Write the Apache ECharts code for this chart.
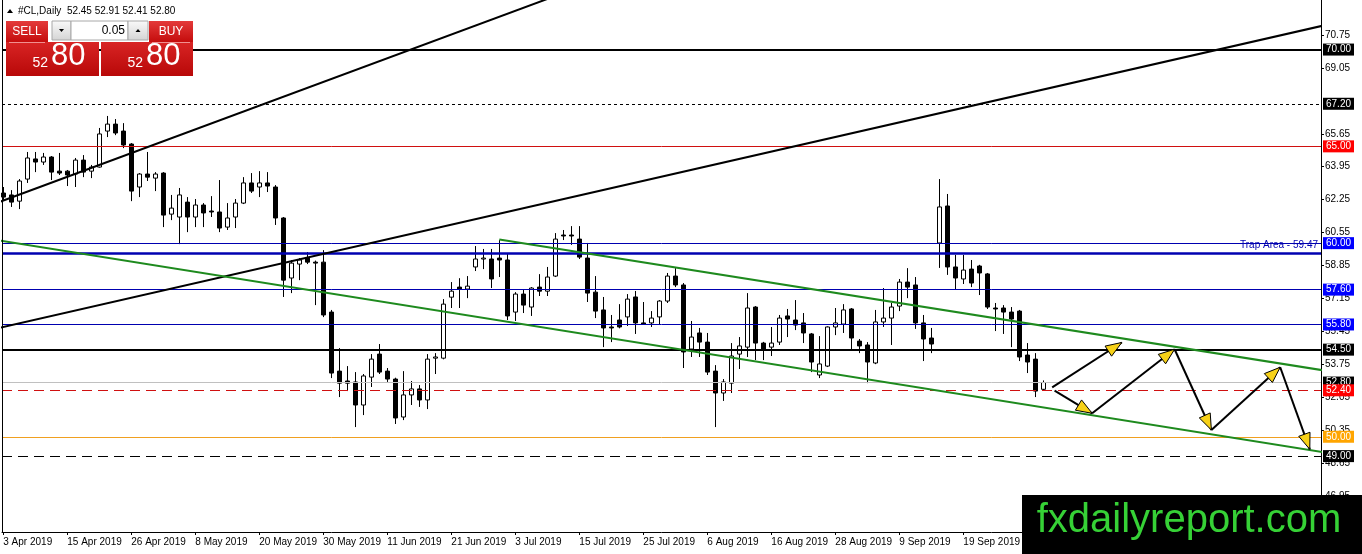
<!DOCTYPE html>
<html lang="en">
<head>
<meta charset="UTF-8">
<title>#CL,Daily</title>
<script src="https://cdn.jsdelivr.net/npm/echarts@6/dist/echarts.min.js"></script>
<style>
  html, body { margin: 0; padding: 0; background: #fff; }
  #main { width: 1362px; height: 554px; }
</style>
</head>
<body>
<div id="main"></div>
<script>
// daily bars, one row per bar: [open, close, low, high]
var candles = [
  [62.59, 62.38, 62.23, 62.90], [62.49, 62.12, 61.87, 62.74], [62.17, 63.21, 61.76, 63.31],
  [63.31, 64.40, 63.11, 64.71], [64.35, 64.19, 63.67, 64.71], [64.19, 64.45, 64.04, 64.66],
  [64.45, 63.67, 63.26, 64.50], [63.72, 63.62, 63.52, 64.66], [63.72, 63.52, 62.95, 63.78],
  [63.57, 64.29, 62.90, 64.40], [64.29, 63.67, 63.41, 64.55], [63.72, 63.93, 63.36, 64.04],
  [63.93, 65.64, 63.90, 65.95], [65.79, 66.15, 65.48, 66.57], [66.15, 65.69, 65.58, 66.41],
  [65.79, 65.07, 64.91, 66.20], [65.12, 62.69, 62.17, 65.17], [62.90, 63.57, 62.38, 63.62],
  [63.57, 63.41, 63.21, 64.71], [63.36, 63.57, 62.69, 63.67], [63.62, 61.45, 60.83, 63.67],
  [61.50, 61.81, 61.19, 62.49], [61.35, 62.49, 59.95, 62.85], [62.12, 61.35, 60.57, 62.38],
  [61.35, 61.97, 60.83, 62.28], [61.97, 61.56, 60.83, 62.07], [61.66, 61.61, 61.35, 62.43],
  [61.61, 60.78, 60.57, 63.26], [60.83, 61.30, 60.68, 62.07], [61.35, 62.07, 60.78, 62.28],
  [62.07, 63.11, 62.02, 63.41], [63.11, 62.69, 62.59, 63.62], [62.90, 63.11, 62.38, 63.72],
  [63.11, 62.95, 62.64, 63.67], [62.90, 61.30, 60.94, 63.00], [61.30, 58.09, 57.22, 61.35],
  [58.20, 58.97, 57.42, 59.13], [58.92, 59.13, 58.09, 59.23], [59.23, 59.02, 58.92, 59.54],
  [59.02, 58.97, 56.80, 59.10], [59.02, 56.29, 56.18, 59.64], [56.44, 53.29, 53.03, 56.55],
  [53.39, 52.77, 52.05, 54.58], [52.88, 52.77, 52.36, 53.65], [52.83, 51.64, 50.50, 53.34],
  [51.64, 53.14, 51.12, 53.24], [53.08, 54.01, 52.57, 54.27], [54.27, 53.34, 53.24, 54.79],
  [53.39, 52.98, 52.83, 53.55], [52.98, 50.97, 50.66, 53.05], [51.02, 52.16, 50.86, 53.39],
  [52.16, 52.47, 51.64, 52.88], [52.47, 51.90, 51.54, 52.67], [51.90, 54.01, 51.43, 54.27],
  [54.06, 54.12, 53.24, 54.32], [54.06, 56.85, 54.00, 57.11], [57.21, 57.52, 56.65, 57.99],
  [57.73, 57.63, 56.65, 58.19], [57.63, 57.78, 57.16, 58.30], [58.77, 59.18, 58.56, 59.85],
  [59.18, 59.23, 58.66, 59.70], [59.18, 58.15, 57.68, 59.70], [59.23, 59.13, 58.25, 60.16],
  [59.13, 56.24, 56.03, 59.49], [56.44, 57.37, 55.98, 57.47], [57.37, 56.80, 56.39, 57.58],
  [56.70, 57.68, 56.24, 57.73], [57.73, 57.52, 57.27, 58.40], [57.52, 58.25, 57.27, 58.77],
  [58.30, 60.21, 58.25, 60.52], [60.42, 60.37, 60.16, 60.68], [60.42, 60.37, 59.91, 60.88],
  [60.21, 59.28, 59.18, 60.88], [59.23, 57.42, 56.96, 60.01], [57.47, 56.49, 56.13, 58.30],
  [56.55, 55.62, 54.63, 57.22], [55.67, 55.62, 54.89, 56.29], [56.03, 55.67, 55.60, 56.85],
  [56.19, 57.11, 55.72, 57.37], [57.22, 55.88, 55.31, 57.53], [55.88, 55.82, 55.78, 56.96],
  [55.88, 56.13, 55.67, 56.49], [56.19, 57.01, 55.82, 57.06], [57.01, 58.30, 56.91, 58.46],
  [58.30, 57.84, 57.73, 58.71], [57.84, 54.38, 53.55, 57.94], [54.53, 55.15, 54.12, 55.98],
  [55.36, 54.89, 54.12, 55.62], [54.89, 53.34, 53.19, 55.36], [53.39, 52.26, 50.50, 53.70],
  [52.26, 52.83, 51.85, 52.98], [52.77, 54.17, 52.26, 54.84], [54.27, 54.69, 53.50, 55.15],
  [54.63, 56.65, 54.12, 57.42], [56.70, 54.84, 53.96, 56.75], [54.84, 54.53, 53.96, 54.90],
  [54.63, 54.84, 54.17, 55.67], [54.89, 56.13, 54.74, 56.29], [56.24, 56.08, 55.15, 56.60],
  [56.03, 55.77, 55.51, 57.06], [55.88, 55.36, 54.84, 56.39], [55.31, 53.86, 53.34, 55.36],
  [53.19, 53.76, 53.03, 55.20], [53.65, 55.67, 53.60, 55.70], [55.67, 55.88, 55.25, 56.65],
  [55.82, 56.55, 55.36, 56.85], [56.60, 55.10, 54.48, 56.65], [54.94, 54.69, 54.32, 55.05],
  [54.74, 53.86, 52.77, 54.89], [53.81, 55.93, 53.75, 56.55], [55.93, 56.13, 55.67, 57.68],
  [56.13, 56.70, 54.74, 56.91], [56.75, 57.99, 56.49, 58.15], [57.99, 57.73, 57.16, 58.71],
  [57.84, 55.88, 55.57, 58.25], [55.88, 55.05, 53.91, 56.29], [55.10, 54.79, 54.32, 55.62],
  [60.01, 61.87, 58.72, 63.31], [61.92, 58.77, 58.36, 62.54], [58.77, 58.20, 57.58, 59.39],
  [58.15, 58.61, 57.89, 59.39], [58.66, 57.94, 57.73, 59.13], [58.82, 58.46, 57.32, 58.88],
  [58.41, 56.70, 56.60, 58.46], [56.65, 56.60, 55.46, 56.91], [56.65, 56.44, 55.31, 56.80],
  [56.44, 56.08, 54.63, 56.70], [56.49, 54.12, 53.91, 56.55], [54.22, 53.86, 53.29, 54.84],
  [54.01, 52.36, 52.05, 54.32], [52.45, 52.80, 52.41, 52.91]
];

// date labels sit every 8th bar
var dateTickIdx = [0, 8, 16, 24, 32, 40, 48, 56, 64, 72, 80, 88, 96, 104, 112, 120];
var dateTickLabels = ['3 Apr 2019', '15 Apr 2019', '26 Apr 2019', '8 May 2019', '20 May 2019',
  '30 May 2019', '11 Jun 2019', '21 Jun 2019', '3 Jul 2019', '15 Jul 2019', '25 Jul 2019',
  '6 Aug 2019', '16 Aug 2019', '28 Aug 2019', '9 Sep 2019', '19 Sep 2019'];

// price scale labels (67.35 is hidden behind the 67.20 tag on the original)
var priceTicks = [46.95, 48.65, 50.35, 52.05, 53.75, 55.45, 57.15, 58.85, 60.55, 62.25,
  63.95, 65.65, 69.05, 70.75];

// horizontal levels
var levels = [70.00, 67.20, 65.00, 60.00, 59.47, 57.60, 55.80, 54.50, 52.80, 52.40, 50.00, 49.00];

// trend lines, endpoints as [bar index, price]
var trendSteep = [[-1, 62.05], [70, 72.92]];
var trendLong = [[-1, 55.58], [165, 71.24]];
var channelLow = [[-1, 60.17], [165, 49.20]];
var channelHigh = [[62, 60.19], [165, 53.43]];

// projected path, each row [fromBar, fromPrice, toBar, toPrice]
var arrowPath = [
  [131.1, 52.55, 139.8, 54.87],
  [131.4, 52.38, 136.1, 51.21],
  [136.1, 51.21, 146.4, 54.52],
  [146.4, 54.52, 151.0, 50.35],
  [151.0, 50.35, 159.6, 53.59],
  [159.6, 53.59, 163.3, 49.35]
];

var FONT = '"Liberation Sans", Arial, sans-serif';
var BLUE = '#0000b0';

// look of each level, same order as levels
var levelLook = [
  { color: '#000', width: 2, type: 'solid', tag: '#000' },
  { color: '#000', width: 1, type: [3, 3], tag: '#000' },
  { color: '#d01010', width: 1, type: 'solid', tag: '#ff0000' },
  { color: BLUE, width: 1, type: 'solid', tag: '#0000ff' },
  { color: BLUE, width: 2.5, type: 'solid', tag: null, text: 'Trap Area - 59.47' },
  { color: BLUE, width: 1, type: 'solid', tag: '#0000ff' },
  { color: BLUE, width: 1, type: 'solid', tag: '#0000ff' },
  { color: '#000', width: 2, type: 'solid', tag: '#000' },
  { color: '#c0c0c0', width: 1, type: 'solid', tag: '#000' },
  { color: '#d01010', width: 1, type: [10, 6], tag: '#ff0000' },
  { color: '#f0a020', width: 1, type: 'solid', tag: '#ffa500' },
  { color: '#000', width: 1, type: [10, 6], tag: '#000' }
];

var levelData = levels.map(function (v, i) {
  var lk = levelLook[i];
  var item = {
    yAxis: v,
    lineStyle: { color: lk.color, width: lk.width, type: lk.type }
  };
  if (lk.tag) {
    item.label = {
      show: true, position: 'end', distance: 2,
      formatter: v.toFixed(2),
      color: '#fff', backgroundColor: lk.tag,
      fontSize: 10, fontFamily: FONT, padding: [1, 3, 1, 3]
    };
  } else {
    item.label = {
      show: true, position: 'insideEndTop', distance: 3,
      formatter: lk.text, color: BLUE, fontSize: 10, fontFamily: FONT
    };
  }
  return item;
});

var candleData = candles.map(function (c, i) { return [i, c[0], c[1], c[2], c[3]]; });

function trend(data, color) {
  return {
    type: 'line', data: data, symbol: 'none', clip: true, silent: true, z: 6,
    lineStyle: { color: color, width: 2 }
  };
}

function redGrad(top, bottom) {
  return { type: 'linear', x: 0, y: 0, x2: 0, y2: 1,
    colorStops: [{ offset: 0, color: top }, { offset: 1, color: bottom }] };
}
var grayGrad = redGrad('#fafafa', '#d4d4d4');

var myChart = echarts.init(document.getElementById('main'));

myChart.setOption({
  animation: false,
  backgroundColor: '#fff',
  textStyle: { fontFamily: FONT },
  grid: { left: 2, right: 41, top: 0, bottom: 22 },
  xAxis: {
    type: 'value', min: -0.16, max: 164.7,
    axisLine: { show: true, onZero: false, lineStyle: { color: '#000', width: 1 } },
    axisTick: { show: true, customValues: dateTickIdx, length: 3, lineStyle: { color: '#000' } },
    axisLabel: {
      customValues: dateTickIdx,
      formatter: function (v) {
        var k = dateTickIdx.indexOf(Math.round(v));
        return k >= 0 ? dateTickLabels[k] : '';
      },
      align: 'left', color: '#000', fontSize: 10, margin: 5
    },
    splitLine: { show: false }
  },
  yAxis: {
    type: 'value', position: 'right', min: 45.08, max: 72.56,
    axisLine: { show: true, onZero: false, lineStyle: { color: '#000', width: 1 } },
    axisTick: { show: true, customValues: priceTicks, length: 3, lineStyle: { color: '#000' } },
    axisLabel: {
      customValues: priceTicks,
      formatter: function (v) { return v.toFixed(2); },
      color: '#000', fontSize: 10, margin: 4
    },
    splitLine: { show: false }
  },
  series: [
    {
      type: 'candlestick',
      data: candleData,
      encode: { x: 0, y: [1, 2, 3, 4] },
      barWidth: 5,
      silent: true,
      itemStyle: {
        color: '#fff', color0: '#000',
        borderColor: '#000', borderColor0: '#000', borderWidth: 1
      },
      markLine: {
        silent: true, symbol: ['none', 'none'], z: 5,
        data: levelData
      }
    },
    trend(trendSteep, '#000'),
    trend(trendLong, '#000'),
    trend(channelLow, '#1e8a1e'),
    trend(channelHigh, '#1e8a1e'),
    {
      type: 'custom',
      data: arrowPath,
      encode: { x: [0, 2], y: [1, 3] },
      silent: true, z: 8,
      renderItem: function (params, api) {
        var p1 = api.coord([api.value(0), api.value(1)]);
        var p2 = api.coord([api.value(2), api.value(3)]);
        var ang = Math.atan2(p2[1] - p1[1], p2[0] - p1[0]);
        var len = 16, half = 6;
        var bx = p2[0] - len * Math.cos(ang), by = p2[1] - len * Math.sin(ang);
        var nx = -Math.sin(ang) * half, ny = Math.cos(ang) * half;
        return {
          type: 'group',
          children: [
            { type: 'line', shape: { x1: p1[0], y1: p1[1], x2: p2[0], y2: p2[1] },
              style: { stroke: '#000', lineWidth: 2 } },
            { type: 'polygon',
              shape: { points: [[p2[0], p2[1]], [bx + nx, by + ny], [bx - nx, by - ny]] },
              style: { fill: '#f7d117', stroke: '#000', lineWidth: 1 } }
          ]
        };
      }
    }
  ],
  graphic: [
    // left frame edge
    { type: 'line', z: 50, shape: { x1: 2.5, y1: 0, x2: 2.5, y2: 532 }, style: { stroke: '#000', lineWidth: 1 } },
    // chart caption
    { type: 'polygon', z: 100, shape: { points: [[7, 13], [13, 13], [10, 9]] }, style: { fill: '#000' } },
    { type: 'text', z: 100, x: 18, y: 11,
      style: { text: '#CL,Daily  52.45 52.91 52.41 52.80', fill: '#000', font: '10px ' + FONT,
        textVerticalAlign: 'middle' } },
    // one-click trading panel
    { type: 'rect', z: 100, shape: { x: 6, y: 21, width: 42, height: 21 },
      style: { fill: redGrad('#e43a3a', '#c40c0c') } },
    { type: 'text', z: 101, x: 27, y: 31.5,
      style: { text: 'SELL', fill: '#fff', font: '12px ' + FONT, textAlign: 'center', textVerticalAlign: 'middle' } },
    { type: 'rect', z: 100, shape: { x: 52, y: 21, width: 19, height: 19 },
      style: { fill: grayGrad, stroke: '#a8a8a8', lineWidth: 1 } },
    { type: 'polygon', z: 101, shape: { points: [[59, 29], [64, 29], [61.5, 32]] }, style: { fill: '#000' } },
    { type: 'rect', z: 100, shape: { x: 71, y: 21, width: 57, height: 19 },
      style: { fill: '#fff', stroke: '#a8a8a8', lineWidth: 1 } },
    { type: 'text', z: 101, x: 125, y: 30.5,
      style: { text: '0.05', fill: '#000', font: '12px ' + FONT, textAlign: 'right', textVerticalAlign: 'middle' } },
    { type: 'rect', z: 100, shape: { x: 128, y: 21, width: 20, height: 19 },
      style: { fill: grayGrad, stroke: '#a8a8a8', lineWidth: 1 } },
    { type: 'polygon', z: 101, shape: { points: [[135.5, 32], [140.5, 32], [138, 29]] }, style: { fill: '#000' } },
    { type: 'rect', z: 100, shape: { x: 149, y: 21, width: 44, height: 21 },
      style: { fill: redGrad('#e43a3a', '#c40c0c') } },
    { type: 'text', z: 101, x: 171, y: 31.5,
      style: { text: 'BUY', fill: '#fff', font: '12px ' + FONT, textAlign: 'center', textVerticalAlign: 'middle' } },
    { type: 'rect', z: 100, shape: { x: 6, y: 42, width: 93, height: 34 },
      style: { fill: redGrad('#d82424', '#b80808') } },
    { type: 'rect', z: 100, shape: { x: 101, y: 42, width: 92, height: 34 },
      style: { fill: redGrad('#d82424', '#b80808') } },
    { type: 'line', z: 101, shape: { x1: 9, y1: 42.5, x2: 45, y2: 42.5 }, style: { stroke: '#f09090', lineWidth: 1 } },
    { type: 'line', z: 101, shape: { x1: 152, y1: 42.5, x2: 190, y2: 42.5 }, style: { stroke: '#f09090', lineWidth: 1 } },
    { type: 'text', z: 101, x: 48, y: 70,
      style: { text: '52', fill: '#fff', font: '14px ' + FONT, textAlign: 'right', textVerticalAlign: 'bottom' } },
    { type: 'text', z: 101, x: 51, y: 72,
      style: { text: '80', fill: '#fff', font: '31px ' + FONT, textAlign: 'left', textVerticalAlign: 'bottom' } },
    { type: 'text', z: 101, x: 143, y: 70,
      style: { text: '52', fill: '#fff', font: '14px ' + FONT, textAlign: 'right', textVerticalAlign: 'bottom' } },
    { type: 'text', z: 101, x: 146, y: 72,
      style: { text: '80', fill: '#fff', font: '31px ' + FONT, textAlign: 'left', textVerticalAlign: 'bottom' } },
    // watermark
    { type: 'rect', z: 200, shape: { x: 1022, y: 495, width: 340, height: 59 }, style: { fill: '#000' } },
    { type: 'text', z: 201, x: 1189, y: 521,
      style: { text: 'fxdailyreport.com', fill: '#36d136', font: '40px ' + FONT,
        textAlign: 'center', textVerticalAlign: 'middle' } }
  ]
});
</script>
</body>
</html>
